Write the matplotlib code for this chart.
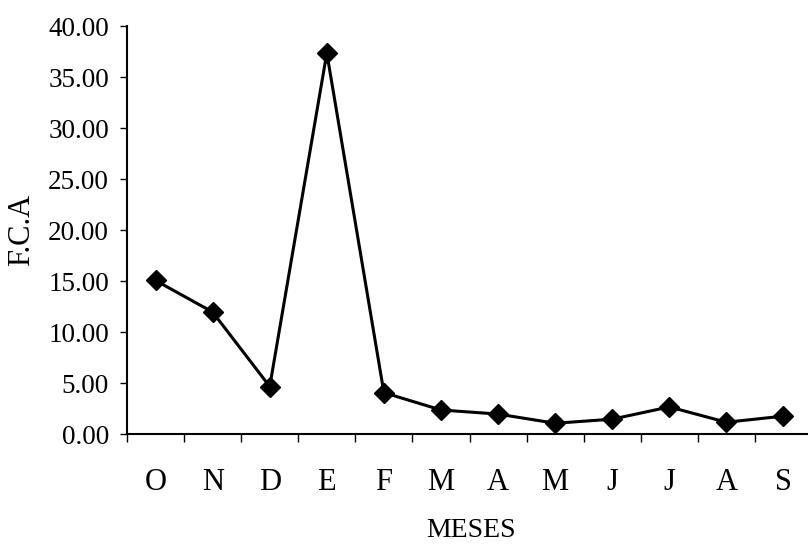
import matplotlib
matplotlib.use("Agg")
import matplotlib.pyplot as plt
import numpy as np
from matplotlib.ticker import FuncFormatter

# monthly F.C.A values, October to September
meses = ["O", "N", "D", "E", "F", "M", "A", "M", "J", "J", "A", "S"]
fca = [15.1, 12.0, 4.7, 37.4, 4.1, 2.4, 2.0, 1.1, 1.5, 2.7, 1.2, 1.8]
y_ticks = [0, 5, 10, 15, 20, 25, 30, 35, 40]

plt.rcParams['font.family'] = ['Liberation Serif', 'DejaVu Serif']

fig = plt.figure(figsize=(8.08, 5.45), dpi=100)
ax = fig.add_axes([0.1572, 0.2028, 0.8478, 0.7486])

x = np.arange(len(meses))
ax.plot(x, fca, color='black', linewidth=2.2, marker='D', markersize=10,
        markerfacecolor='black', markeredgecolor='black', markeredgewidth=1)

ax.set_xlim(-0.5, len(meses) - 0.5)
ax.set_ylim(0, 40)

# categories labelled at centres, tick marks at boundaries
ax.set_xticks(x)
ax.set_xticklabels(meses, fontsize=22)
ax.set_xticks(np.arange(-0.5, len(meses)), minor=True)
ax.tick_params(axis='x', which='major', length=0, pad=24)
ax.tick_params(axis='x', which='minor', length=6, width=1, direction='out')

ax.set_yticks(y_ticks)
ax.yaxis.set_major_formatter(FuncFormatter(lambda v, p: "%.2f" % v))
ax.tick_params(axis='y', which='major', length=5, width=1, direction='out',
               pad=8, labelsize=19.5)

for s in ['top', 'right']:
    ax.spines[s].set_visible(False)
for s in ['left', 'bottom']:
    ax.spines[s].set_linewidth(1.5)

fig.text(22 / 808, 1 - 230 / 545, "F.C.A", rotation=90, ha='center',
         va='center', fontsize=22)
fig.text(471 / 808, 0.003, "MESES", ha='center', va='bottom', fontsize=20)

plt.savefig("out.png", dpi=100)
